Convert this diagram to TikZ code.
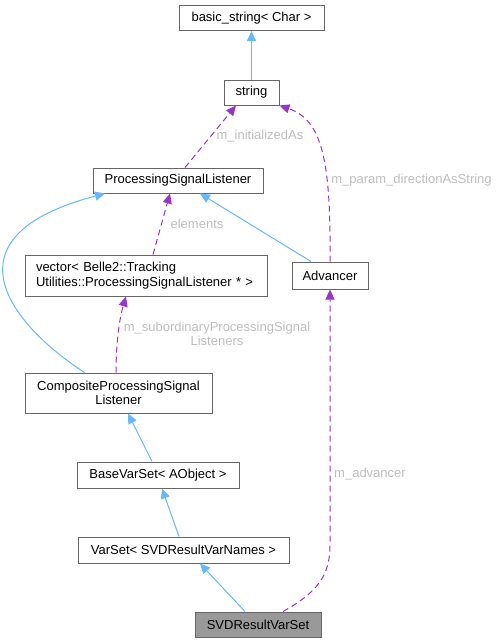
\documentclass[tikz,border=0pt]{standalone}
\usepackage{fontspec}
\setmainfont{Liberation Sans}
\usepackage{tikz}
\usetikzlibrary{calc, shapes, arrows.meta}

\definecolor{inhblue}{HTML}{63B8FF}
\definecolor{mempurple}{HTML}{9A32CD}
\definecolor{lblgrey}{HTML}{BEBEBE}
\definecolor{boxgrey}{HTML}{666666}
\definecolor{rootgrey}{HTML}{999999}

\begin{document}
\begin{tikzpicture}[x=1pt,y=-1pt]
\tikzstyle{cls}=[draw=boxgrey,fill=white,line width=1pt,inner sep=0pt,minimum height=25pt,font=\fontsize{13}{14.5}\selectfont]
\tikzstyle{root}=[cls,fill=rootgrey]
\tikzstyle{inherit}=[draw=inhblue,line width=1pt,-{Triangle[length=10pt,width=9pt]}]
\tikzstyle{member}=[draw=mempurple,line width=1pt,dash pattern=on 6pt off 4pt,-{Triangle[length=10pt,width=9pt]}]
\tikzstyle{lbl}=[text=lblgrey,inner sep=0pt,align=center,font=\fontsize{13}{14.5}\selectfont]
\useasboundingbox (0,0) rectangle (498,643);
% classes
\node[cls,minimum width=145pt] (basic) at (251.5,18) {basic\_string< Char >};
\node[cls,minimum width=55pt] (string) at (251.5,92.5) {string};
\node[cls,minimum width=170pt] (psl) at (178,180.5) {ProcessingSignalListener};
\node[cls,minimum width=242pt,minimum height=41pt,text width=220pt,align=left] (vector) at (146,275.5) {vector< Belle2::Tracking\\Utilities::ProcessingSignalListener * >};
\node[cls,minimum width=76pt,minimum height=27pt] (advancer) at (330,275.5) {Advancer};
\node[cls,minimum width=187pt,minimum height=40pt,align=center] (composite) at (118.5,393) {CompositeProcessingSignal\\Listener};
\node[cls,minimum width=162pt,minimum height=26pt] (basevar) at (158,475) {BaseVarSet< AObject >};
\node[cls,minimum width=211pt,minimum height=26pt] (varset) at (183.5,550) {VarSet< SVDResultVarNames >};
\node[root,minimum width=126pt] (svd) at (258,624.5) {SVDResultVarSet};
% inheritance
\draw[inherit] (string) -- (basic);
\draw[inherit] ([xshift=-34pt]composite.north) .. controls (7,322) and (-57,236) .. ([xshift=-73pt]psl.south);
\draw[inherit] ([xshift=-19pt]advancer.north) -- ([xshift=22pt]psl.south);
\draw[inherit] ([xshift=-6pt]basevar.north) -- ([xshift=9.5pt]composite.south);
\draw[inherit] ([xshift=-4.5pt]varset.north) -- ([xshift=4pt]basevar.south);
\draw[inherit] ([xshift=-13pt]svd.north) -- ([xshift=16.5pt]varset.south);
% members
\draw[member] ([xshift=7pt]psl.north) -- ([xshift=-15.5pt]string.south);
\draw[member] (advancer.north) .. controls (331,160) and (322,120) .. (string.south east);
\draw[member] ([xshift=7pt]vector.north) -- ([xshift=-8pt]psl.south);
\draw[member] ([xshift=-2.5pt]composite.north) .. controls (116,345) and (119,320) .. ([xshift=-20pt]vector.south);
\draw[member] ([xshift=25pt]svd.north) .. controls (318,592) and (330,575) .. (330,545) -- (advancer);
% labels
\node[lbl] (l_init) at (260,136) {m\_initializedAs};
\node[lbl] (l_dir) at (411.5,180) {m\_param\_directionAsString};
\node[lbl] (l_elem) at (197,224) {elements};
\node[lbl] (l_sub) at (217,334) {m\_subordinaryProcessingSignal\\Listeners};
\node[lbl] (l_adv) at (370,474) {m\_advancer};
\end{tikzpicture}
\end{document}
